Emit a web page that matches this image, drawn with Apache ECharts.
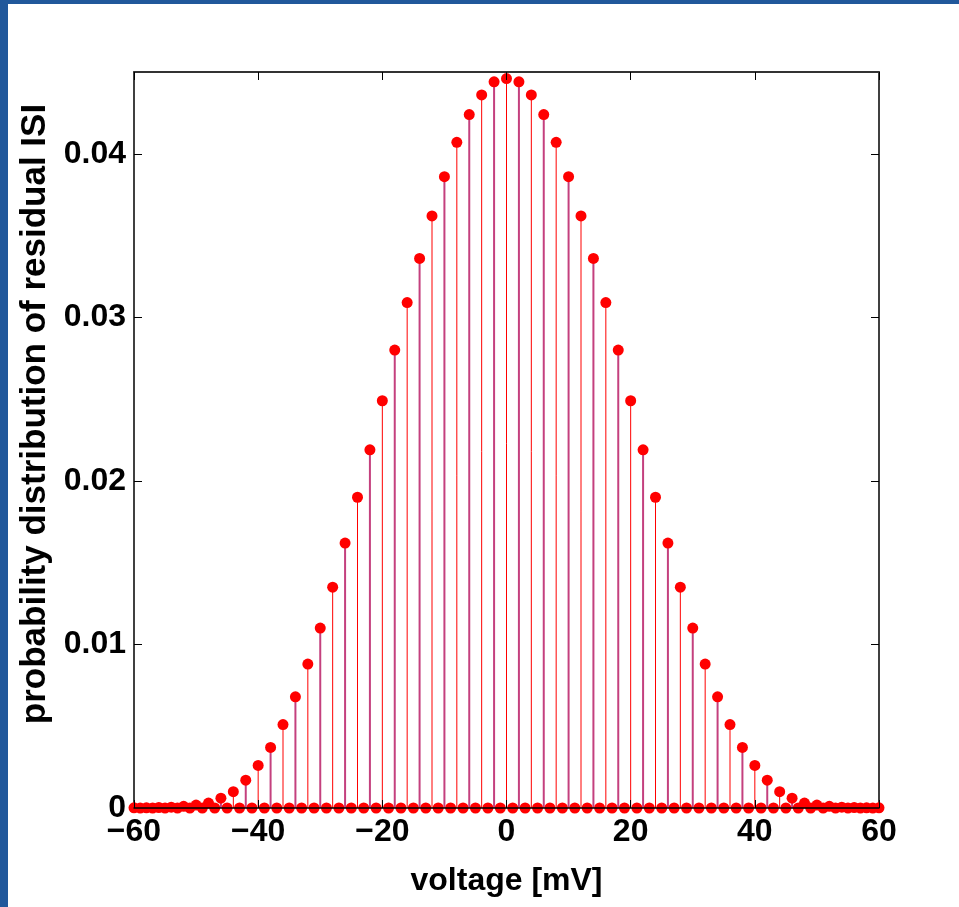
<!DOCTYPE html>
<html>
<head>
<meta charset="utf-8">
<title>residual ISI</title>
<script src="https://cdn.jsdelivr.net/npm/echarts@6/dist/echarts.min.js"></script>
<style>
  html, body { margin: 0; padding: 0; background: #fff; }
  #chart { position: absolute; left: 0; top: 0; width: 959px; height: 907px; }
  .frame-left { position: absolute; left: 0; top: 0; width: 8px; height: 907px; background: #21589b; }
  .frame-top { position: absolute; left: 0; top: 0; width: 959px; height: 4px; background: #21589b; }
</style>
</head>
<body>
<div id="chart"></div>
<div class="frame-left"></div>
<div class="frame-top"></div>
<script>
// voltage grid [mV], 1 mV steps
var voltages = [
  -60, -59, -58, -57, -56, -55, -54, -53, -52, -51,
  -50, -49, -48, -47, -46, -45, -44, -43, -42, -41,
  -40, -39, -38, -37, -36, -35, -34, -33, -32, -31,
  -30, -29, -28, -27, -26, -25, -24, -23, -22, -21,
  -20, -19, -18, -17, -16, -15, -14, -13, -12, -11,
  -10, -9, -8, -7, -6, -5, -4, -3, -2, -1,
  0, 1, 2, 3, 4, 5, 6, 7, 8, 9,
  10, 11, 12, 13, 14, 15, 16, 17, 18, 19,
  20, 21, 22, 23, 24, 25, 26, 27, 28, 29,
  30, 31, 32, 33, 34, 35, 36, 37, 38, 39,
  40, 41, 42, 43, 44, 45, 46, 47, 48, 49,
  50, 51, 52, 53, 54, 55, 56, 57, 58, 59,
  60
]

// probability of residual ISI at each voltage (odd voltages are zero)
var probability = [
  0.00001, 0, 0.00001, 0, 0.00003, 0, 0.00005, 0, 0.0001, 0,
  0.00018, 0, 0.0003, 0, 0.0006, 0, 0.0010, 0, 0.0017, 0,
  0.0026, 0, 0.0037, 0, 0.0051, 0, 0.0068, 0, 0.0088, 0,
  0.0110, 0, 0.0135, 0, 0.0162, 0, 0.0190, 0, 0.0219, 0,
  0.0249, 0, 0.0280, 0, 0.0309, 0, 0.0336, 0, 0.0362, 0,
  0.0386, 0, 0.0407, 0, 0.0424, 0, 0.0436, 0, 0.0444, 0,
  0.0446, 0, 0.0444, 0, 0.0436, 0, 0.0424, 0, 0.0407, 0,
  0.0386, 0, 0.0362, 0, 0.0336, 0, 0.0309, 0, 0.0280, 0,
  0.0249, 0, 0.0219, 0, 0.0190, 0, 0.0162, 0, 0.0135, 0,
  0.0110, 0, 0.0088, 0, 0.0068, 0, 0.0051, 0, 0.0037, 0,
  0.0026, 0, 0.0017, 0, 0.0010, 0, 0.0006, 0, 0.0003, 0,
  0.00018, 0, 0.0001, 0, 0.00005, 0, 0.00003, 0, 0.00001, 0,
  0.00001
]

var xTicks = [-60, -40, -20, 0, 20, 40, 60]
var yTicks = [0, 0.01, 0.02, 0.03, 0.04]
var yMax = 0.045

var chart = echarts.init(document.getElementById('chart'))

var points = voltages.map(function(v, i) { return [v, probability[i]] })

var font = '"Liberation Sans", Arial, Helvetica, sans-serif'
var labelStyle = { color: '#000', fontFamily: font, fontWeight: 'bold', fontSize: 32 }

function boxAxis(extra) {
  var base = {
    type: 'value',
    splitLine: { show: false },
    axisLine: { show: true, onZero: false, lineStyle: { color: '#000', width: 1.5 } },
    axisTick: { show: true, inside: true, length: 8, lineStyle: { color: '#000', width: 1 } }
  }
  return Object.assign(base, extra)
}

var option = {
  backgroundColor: '#fff',
  animation: false,
  grid: { left: 134, right: 80, top: 72, bottom: 99 },
  xAxis: [
    boxAxis({
      position: 'bottom',
      z: 5,
      min: xTicks[0],
      max: xTicks[xTicks.length - 1],
      interval: xTicks[1] - xTicks[0],
      axisLabel: Object.assign({
        margin: 8,
        // MATLAB draws a wide minus sign
        formatter: function(v) { return String(v).replace('-', '\u2212') }
      }, labelStyle),
      name: 'voltage [mV]',
      nameLocation: 'middle',
      nameGap: 57,
      nameTextStyle: labelStyle
    }),
    boxAxis({
      position: 'top',
      z: 5,
      min: xTicks[0],
      max: xTicks[xTicks.length - 1],
      interval: xTicks[1] - xTicks[0],
      axisLine: { show: true, onZero: false, lineStyle: { color: '#333', width: 2 } },
      axisLabel: { show: false }
    })
  ],
  yAxis: [
    boxAxis({
      position: 'left',
      min: yTicks[0],
      max: yMax,
      interval: yTicks[1] - yTicks[0],
      axisLabel: Object.assign({
        margin: 8,
        showMaxLabel: false,
        formatter: function(v) { return v === 0 ? '0' : v.toFixed(2) }
      }, labelStyle),
      name: 'probability distribution of residual ISI',
      nameLocation: 'middle',
      nameGap: 65,
      nameTextStyle: Object.assign({}, labelStyle, { fontSize: 35, padding: [0, 0, 0, 52] })
    }),
    boxAxis({
      position: 'right',
      min: yTicks[0],
      max: yMax,
      interval: yTicks[1] - yTicks[0],
      axisLabel: { show: false }
    })
  ],
  series: [
    {
      // stems
      type: 'custom',
      clip: false,
      z: 2,
      data: points,
      renderItem: function(params, api) {
        var x = api.value(0)
        var p0 = api.coord([x, 0])
        var p1 = api.coord([x, api.value(1)])
        var shade = Math.abs(Math.round(x / 2)) % 2 === 1
        return {
          type: 'line',
          shape: { x1: p0[0], y1: p0[1], x2: p1[0], y2: p1[1] },
          style: { stroke: shade ? '#c4407e' : '#ff0000', lineWidth: shade ? 2 : 1 }
        }
      }
    },
    {
      // stem heads
      type: 'scatter',
      clip: false,
      z: 3,
      symbol: 'circle',
      symbolSize: 11,
      itemStyle: { color: '#ff0000', opacity: 1 },
      data: points
    }
  ]
}

chart.setOption(option)
window.addEventListener('resize', function() {
  chart.resize()
})
</script>
</body>
</html>
